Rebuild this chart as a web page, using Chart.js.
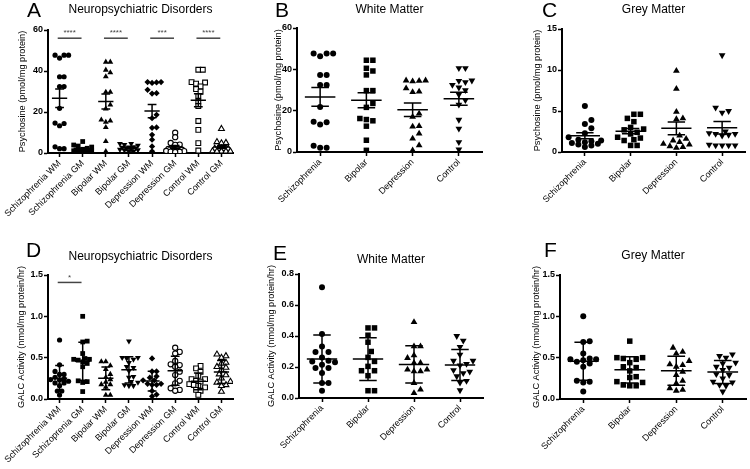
<!DOCTYPE html>
<html>
<head>
<meta charset="utf-8">
<script src="https://cdn.jsdelivr.net/npm/chart.js@4.4.1/dist/chart.umd.min.js"></script>
<style>
  html, body { margin: 0; padding: 0; background: #fff; }
  #fig { position: relative; width: 750px; height: 469px; overflow: hidden; }
  #fig canvas { position: absolute; }
  .lbl { position: absolute; font: 21px 'Liberation Sans', Arial, sans-serif; line-height: 1; color: #000; }
</style>
</head>
<body>
<div id="fig">
  <canvas id="cA" width="250" height="230" style="left:0;top:0"></canvas>
  <canvas id="cB" width="250" height="230" style="left:250px;top:0"></canvas>
  <canvas id="cC" width="250" height="230" style="left:500px;top:0"></canvas>
  <canvas id="cD" width="250" height="239" style="left:0;top:230px"></canvas>
  <canvas id="cE" width="250" height="239" style="left:250px;top:230px"></canvas>
  <canvas id="cF" width="250" height="239" style="left:500px;top:230px"></canvas>
  <div class="lbl" style="left:27px;top:-1px">A</div>
  <div class="lbl" style="left:275px;top:-1px">B</div>
  <div class="lbl" style="left:542px;top:-1px">C</div>
  <div class="lbl" style="left:26px;top:239px">D</div>
  <div class="lbl" style="left:273px;top:242px">E</div>
  <div class="lbl" style="left:544px;top:239px">F</div>
</div>
<script>
// category labels
const groups = ['Schizophrenia', 'Bipolar', 'Depression', 'Control'];
const labelsA = ['Schizophrenia WM', 'Schizophrenia GM', 'Bipolar WM', 'Bipolar GM',
                 'Depression WM', 'Depression GM', 'Control WM', 'Control GM'];
const labelsD = ['Schizophrenia WM', 'Schizoprenia GM', 'Bipolar WM', 'Bipolar GM',
                 'Depression WM', 'Depression GM', 'Control WM', 'Control GM'];

// psychosine (pmol/mg protein) - white matter
const psySczWM = [47.7, 47.7, 47.7, 46.3, 37.2, 37.2, 32.4, 32.4, 21.8, 14.6, 14.4, 13.3, 3.0, 2.1, 2.1];
const psyBipWM = [44.4, 44.4, 40.5, 39.2, 37.3, 29.7, 29.7, 23.5, 21.6, 16.2, 15.7, 15.1, 12.5, 5.7, 0.8];
const psyDepWM = [34.6, 34.6, 34.4, 34.2, 30.8, 29.2, 29.0, 18.6, 17.0, 12.5, 12.3, 8.9, 6.5, 3.2, 0.8];
const psyCtlWM = [40.6, 40.6, 34.6, 34.4, 33.8, 32.5, 31.2, 29.9, 27.8, 25.1, 22.9, 15.6, 11.3, 4.8, 1.2];
// psychosine - grey matter
const psySczGM = [5.6, 3.9, 3.4, 2.9, 2.3, 1.8, 1.5, 1.4, 1.3, 1.2, 1.1, 1.0, 0.9, 0.8, 0.6];
const psyBipGM = [4.6, 4.6, 4.1, 3.7, 3.0, 2.8, 2.7, 2.4, 2.2, 1.8, 1.7, 1.5, 1.4, 0.8, 0.8];
const psyDepGM = [9.9, 7.7, 4.9, 4.1, 4.0, 2.0, 1.6, 1.4, 1.2, 1.0, 0.9, 0.7, 0.6, 0.5];
const psyCtlGM = [11.8, 5.4, 5.0, 4.8, 2.5, 2.3, 2.2, 2.2, 2.1, 2.0, 0.9, 0.8, 0.8, 0.8, 0.8];

// GALC activity (nmol/mg protein/hr) - white matter
const galcSczWM = [0.714, 0.413, 0.333, 0.297, 0.297, 0.262, 0.24, 0.235, 0.23, 0.215, 0.194, 0.194, 0.161, 0.097, 0.097, 0.047];
const galcBipWM = [0.452, 0.452, 0.405, 0.36, 0.30, 0.262, 0.236, 0.204, 0.176, 0.176, 0.144, 0.047, 0.047];
const galcDepWM = [0.49, 0.333, 0.333, 0.275, 0.258, 0.226, 0.226, 0.183, 0.183, 0.172, 0.172, 0.097, 0.054, 0.032];
const galcCtlWM = [0.40, 0.37, 0.33, 0.28, 0.24, 0.24, 0.22, 0.21, 0.18, 0.17, 0.16, 0.14, 0.11, 0.10, 0.05];
// GALC activity - grey matter
const galcSczGM = [1.0, 0.70, 0.69, 0.55, 0.49, 0.48, 0.48, 0.47, 0.45, 0.43, 0.39, 0.22, 0.21, 0.20, 0.09];
const galcBipGM = [0.70, 0.50, 0.50, 0.49, 0.48, 0.44, 0.39, 0.38, 0.34, 0.27, 0.26, 0.21, 0.20, 0.17, 0.16, 0.16];
const galcDepGM = [0.62, 0.57, 0.55, 0.46, 0.42, 0.41, 0.39, 0.33, 0.29, 0.22, 0.19, 0.13, 0.11, 0.10];
const galcCtlGM = [0.54, 0.52, 0.50, 0.44, 0.43, 0.39, 0.38, 0.35, 0.30, 0.29, 0.25, 0.21, 0.20, 0.17, 0.16, 0.09];

// y ticks
const psyTicks = [0, 20, 40, 60];
const psyGMTicks = [0, 5, 10, 15];
const galcTicks = [0, 0.5, 1.0, 1.5];
const galcWMTicks = [0, 0.2, 0.4, 0.6, 0.8];

// significance marks (WM vs GM pairs)
const psyStars = ['****', '****', '***', '****'];
const galcStars = ['*'];

Chart.defaults.font.family = "'Liberation Sans', Arial, sans-serif";
Chart.defaults.color = '#000';

// marker styles
const MK = {
  dot:  { style: 'circle', fill: true, k: 1 },
  sq:   { style: 'rect', fill: true, k: 1.3 },
  tri:  { style: 'triangle', fill: true, k: 1.3 },
  inv:  { style: 'triangle', fill: true, k: 1.3, rot: 180 },
  dia:  { style: 'rectRot', fill: true, k: 1.2 },
  oDot: { style: 'circle', fill: false, k: 1 },
  oSq:  { style: 'rect', fill: false, k: 1.3 },
  oTri: { style: 'triangle', fill: false, k: 1.3 }
};

// horizontal spread of points (beeswarm, in pixels -> category units)
function swarm(vals, pxPerUnit, diam, maxOff) {
  const order = vals.map((v, i) => i).sort((a, b) => vals[a] - vals[b]);
  const placed = [];
  const offs = new Array(vals.length).fill(0);
  order.forEach(i => {
    const y = vals[i] * pxPerUnit;
    let best = 0, bestGap = -1;
    search:
    for (let k = 0; k <= 30; k++) {
      for (const s of (k ? [1, -1] : [1])) {
        const x = s * k * diam * 0.5;
        if (Math.abs(x) > maxOff) continue;
        let gap = Infinity;
        placed.forEach(p => { gap = Math.min(gap, Math.hypot(p.x - x, p.y - y)); });
        if (gap >= diam) { best = x; break search; }
        if (gap > bestGap) { bestGap = gap; best = x; }
      }
    }
    placed.push({ x: best, y: y });
    offs[i] = best;
  });
  return offs;
}

// mean line with SEM / SD whiskers
const meanBars = {
  id: 'meanBars',
  afterDatasetsDraw(chart, args, opts) {
    const { ctx, scales: { x, y } } = chart;
    ctx.save();
    ctx.strokeStyle = '#000';
    ctx.lineWidth = 1.5;
    opts.series.forEach((vals, i) => {
      const n = vals.length;
      const m = vals.reduce((a, b) => a + b, 0) / n;
      const sd = Math.sqrt(vals.reduce((a, b) => a + (b - m) * (b - m), 0) / (n - 1));
      const e = opts.mode === 'sem' ? sd / Math.sqrt(n) : sd;
      const xc = x.getPixelForValue(i);
      const ym = y.getPixelForValue(m), yt = y.getPixelForValue(m + e), yb = y.getPixelForValue(m - e);
      ctx.beginPath();
      ctx.moveTo(x.getPixelForValue(i - 0.33), ym); ctx.lineTo(x.getPixelForValue(i + 0.33), ym);
      ctx.moveTo(xc, yt); ctx.lineTo(xc, yb);
      ctx.moveTo(x.getPixelForValue(i - 0.19), yt); ctx.lineTo(x.getPixelForValue(i + 0.19), yt);
      ctx.moveTo(x.getPixelForValue(i - 0.19), yb); ctx.lineTo(x.getPixelForValue(i + 0.19), yb);
      ctx.stroke();
    });
    ctx.restore();
  }
};

// significance bars between WM and GM columns
const sigBars = {
  id: 'sigBars',
  afterDatasetsDraw(chart, args, opts) {
    if (!opts.stars) return;
    const { ctx, scales: { x, y } } = chart;
    ctx.save();
    ctx.strokeStyle = '#444';
    ctx.fillStyle = '#444';
    ctx.lineWidth = 1.5;
    ctx.font = "8px 'Liberation Sans', Arial, sans-serif";
    ctx.textAlign = 'center';
    ctx.textBaseline = 'bottom';
    const yy = y.getPixelForValue(opts.level);
    opts.stars.forEach((s, k) => {
      const x1 = x.getPixelForValue(2 * k - 0.08), x2 = x.getPixelForValue(2 * k + 1 - 0.05);
      ctx.beginPath(); ctx.moveTo(x1, yy); ctx.lineTo(x2, yy); ctx.stroke();
      ctx.fillText(s, (x1 + x2) / 2, yy - 1);
    });
    ctx.restore();
  }
};

function panel(id, o) {
  const n = o.series.length;
  const W = 250;
  const plotW = W - o.padLeft - o.yWidth - o.padRight;
  const plotH = o.H - o.top - o.xHeight;
  const catPx = plotW / n;
  const yMax = o.ticks[o.ticks.length - 1];
  const datasets = o.series.map((vals, i) => {
    const mk = MK[o.marks[i]];
    const offs = swarm(vals, plotH / yMax, o.diam, o.maxOff);
    return {
      data: vals.map((v, j) => ({ x: i + offs[j] / catPx, y: v })),
      pointStyle: mk.style,
      pointRotation: mk.rot || 0,
      pointRadius: o.r * mk.k,
      backgroundColor: mk.fill ? '#000' : '#fff',
      borderColor: '#000',
      borderWidth: mk.fill ? 0 : 1.1
    };
  });
  const tFont = 12, tLine = tFont * 1.2;
  new Chart(document.getElementById(id), {
    type: 'scatter',
    data: { datasets },
    plugins: [meanBars, sigBars],
    options: {
      responsive: false,
      animation: false,
      layout: { padding: { left: o.padLeft, right: o.padRight, top: 0, bottom: 0 } },
      plugins: {
        legend: { display: false },
        tooltip: { enabled: false },
        title: {
          display: true,
          text: o.title,
          fullSize: false,
          font: { size: tFont, weight: 'normal' },
          padding: { top: o.titleY - tLine / 2, bottom: o.top - o.titleY - tLine / 2 }
        },
        meanBars: { series: o.series, mode: o.mode },
        sigBars: { stars: o.stars, level: o.level }
      },
      scales: {
        x: {
          type: 'linear',
          min: -0.5,
          max: n - 0.5,
          afterBuildTicks: s => { s.ticks = o.labels.map((l, i) => ({ value: i })); },
          afterFit: s => { s.height = o.xHeight; },
          ticks: {
            minRotation: 45, maxRotation: 45, padding: 1,
            font: { size: 9 },
            callback: (v, i) => o.labels[i]
          },
          grid: { drawOnChartArea: false, drawTicks: true, tickLength: 4, color: '#000', tickWidth: 1.5 },
          border: { display: true, color: '#000', width: 2 }
        },
        y: {
          min: 0,
          max: yMax,
          afterBuildTicks: s => { s.ticks = o.ticks.map(v => ({ value: v })); },
          afterFit: s => { s.width = o.yWidth; },
          ticks: {
            padding: 1,
            font: { size: 9, weight: 'bold' },
            callback: v => o.dec ? v.toFixed(o.dec) : v
          },
          grid: { drawOnChartArea: false, drawTicks: true, tickLength: 4, color: '#000', tickWidth: 1.5 },
          border: { display: true, color: '#000', width: 2 },
          title: { display: true, text: o.yTitle, font: { size: 9.2 }, padding: { top: 4, bottom: 0 } }
        }
      }
    }
  });
}

const psyTitle = 'Psychosine (pmol/mg protein)';
const galcTitle = 'GALC Activity (nmol/mg protein/hr)';

panel('cA', {
  title: 'Neuropsychiatric Disorders', labels: labelsA, yTitle: psyTitle, ticks: psyTicks, dec: 0,
  series: [psySczWM, psySczGM, psyBipWM, psyBipGM, psyDepWM, psyDepGM, psyCtlWM, psyCtlGM],
  marks: ['dot', 'sq', 'tri', 'inv', 'dia', 'oDot', 'oSq', 'oTri'],
  mode: 'sem', stars: psyStars, level: 56,
  H: 230, top: 30, titleY: 10, xHeight: 77, padLeft: 12.5, yWidth: 35.5, padRight: 17,
  r: 2.6, diam: 4.5, maxOff: 9
});
panel('cB', {
  title: 'White Matter', labels: groups, yTitle: psyTitle, ticks: psyTicks, dec: 0,
  series: [psySczWM, psyBipWM, psyDepWM, psyCtlWM],
  marks: ['dot', 'sq', 'tri', 'inv'], mode: 'sem',
  H: 230, top: 28, titleY: 10, xHeight: 78, padLeft: 18.5, yWidth: 28.5, padRight: 18,
  r: 3, diam: 6.5, maxOff: 17
});
panel('cC', {
  title: 'Grey Matter', labels: groups, yTitle: psyTitle, ticks: psyGMTicks, dec: 0,
  series: [psySczGM, psyBipGM, psyDepGM, psyCtlGM],
  marks: ['dot', 'sq', 'tri', 'inv'], mode: 'sem',
  H: 230, top: 29, titleY: 10, xHeight: 78, padLeft: 28, yWidth: 34, padRight: 5,
  r: 3, diam: 6.5, maxOff: 17
});
panel('cD', {
  title: 'Neuropsychiatric Disorders', labels: labelsD, yTitle: galcTitle, ticks: galcTicks, dec: 1,
  series: [galcSczWM, galcSczGM, galcBipWM, galcBipGM, galcDepWM, galcDepGM, galcCtlWM, galcCtlGM],
  marks: ['dot', 'sq', 'tri', 'inv', 'dia', 'oDot', 'oSq', 'oTri'],
  mode: 'sd', stars: galcStars, level: 1.41,
  H: 239, top: 45, titleY: 26.7, xHeight: 70, padLeft: 12, yWidth: 36, padRight: 17,
  r: 2.6, diam: 4.5, maxOff: 9
});
panel('cE', {
  title: 'White Matter', labels: groups, yTitle: galcTitle, ticks: galcWMTicks, dec: 1,
  series: [galcSczWM, galcBipWM, galcDepWM, galcCtlWM],
  marks: ['dot', 'sq', 'tri', 'inv'], mode: 'sd',
  H: 239, top: 44, titleY: 30, xHeight: 71, padLeft: 12, yWidth: 37, padRight: 17,
  r: 3, diam: 6.5, maxOff: 17
});
panel('cF', {
  title: 'Grey Matter', labels: groups, yTitle: galcTitle, ticks: galcTicks, dec: 1,
  series: [galcSczGM, galcBipGM, galcDepGM, galcCtlGM],
  marks: ['dot', 'sq', 'tri', 'inv'], mode: 'sd',
  H: 239, top: 45, titleY: 26, xHeight: 70, padLeft: 26.5, yWidth: 33.5, padRight: 2,
  r: 3, diam: 6.5, maxOff: 17
});
</script>
</body>
</html>
